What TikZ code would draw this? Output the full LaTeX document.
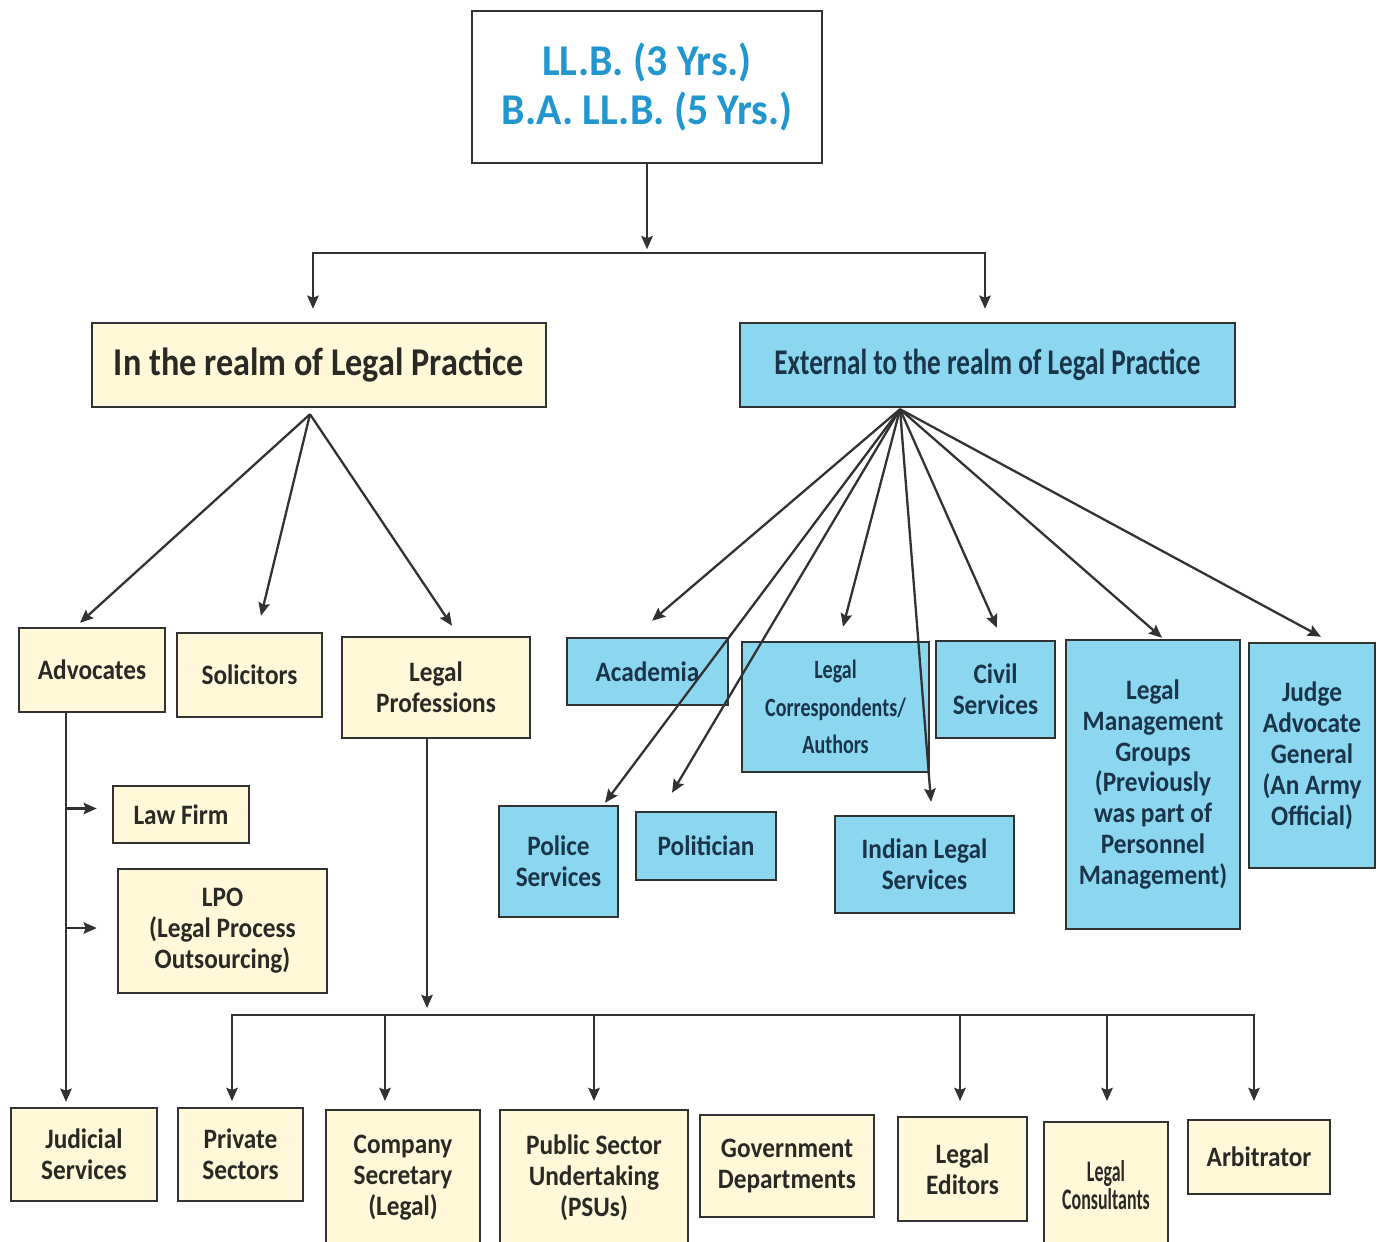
\documentclass[tikz,border=0pt]{standalone}
\usepackage{fontspec}
\setmainfont{Carlito}
\newfontfamily\fG{Carlito}[FakeStretch=0.9]
\newfontfamily\fT{Carlito}[FakeStretch=0.95]
\newfontfamily\fR{Carlito}[FakeStretch=0.87]
\newfontfamily\fE{Carlito}[FakeStretch=0.75]
\newfontfamily\fC{Carlito}[FakeStretch=0.76]
\newfontfamily\fD{Carlito}[FakeStretch=0.6]
\usetikzlibrary{arrows.meta,calc}
\definecolor{cream}{RGB}{255,249,217}
\definecolor{sky}{RGB}{140,215,240}
\definecolor{edge}{RGB}{50,50,50}
\definecolor{inkY}{RGB}{42,42,36}
\definecolor{inkB}{RGB}{26,52,72}
\definecolor{topink}{RGB}{33,150,207}
\tikzset{Ar/.tip={Stealth[length=7.5pt,width=6.5pt,inset=1.2pt]}}
\begin{document}
\begin{tikzpicture}[x=0.02cm,y=-0.02cm,
  sz/.style 2 args={minimum width=#1*0.02cm,minimum height=#2*0.02cm},
  box/.style={draw=edge,line width=1.4pt,inner sep=0pt,align=center,
    font=\fG\bfseries\fontsize{16}{17.6}\selectfont},
  ybox/.style={box,fill=cream,text=inkY},
  bbox/.style={box,fill=sky,text=inkB},
  tbox/.style={box,fill=white,text=topink,font=\fT\bfseries\fontsize{25}{28}\selectfont},
  ln/.style={draw=edge,line width=1.3pt},
  arr/.style={ln,-Ar},
  darr/.style={ln,Ar-Ar}]
\useasboundingbox (0,0) rectangle (1378,1241);
\fill[white] (0,0) rectangle (1378,1241);
\clip (0,0) rectangle (1378,1241);

% top
\node[tbox,sz={350}{152}] (top) at (647,87) {LL.B. (3 Yrs.)\\B.A. LL.B. (5 Yrs.)};
\node[ybox,sz={454}{84},font=\fR\bfseries\fontsize{22.4}{24}\selectfont] (realm) at (319,365) {In the realm of Legal Practice};
\node[bbox,sz={495}{84},font=\fE\bfseries\fontsize{20.6}{22}\selectfont] (ext) at (987.5,365) {External to the realm of Legal Practice};

% left side
\node[ybox,sz={146}{84}] (adv) at (92,670) {Advocates};
\node[ybox,sz={145}{84}] (sol) at (249.5,675) {Solicitors};
\node[ybox,sz={188}{101}] (lp) at (436,687.5) {Legal\\Professions};
\node[ybox,sz={136}{57}] (lf) at (181,814.5) {Law Firm};
\node[ybox,sz={209}{124}] (lpo) at (222.5,931) {LPO\\(Legal Process\\Outsourcing)};

% right side
\node[bbox,sz={161}{67}] (acad) at (647.5,671.5) {Academia};
\node[bbox,sz={187}{130},font=\fC\bfseries\fontsize{15}{21.5}\selectfont] (lc) at (835.5,707) {Legal\\Correspondents/\\Authors};
\node[bbox,sz={119}{97}] (civ) at (995.5,689.5) {Civil\\Services};
\node[bbox,sz={174}{289}] (lmg) at (1153,784.5) {Legal\\Management\\Groups\\(Previously\\was part of\\Personnel\\Management)};
\node[bbox,sz={126}{225}] (jag) at (1312,755.5) {Judge\\Advocate\\General\\(An Army\\Official)};
\node[bbox,sz={119}{111}] (pol) at (558.5,861.5) {Police\\Services};
\node[bbox,sz={140}{68}] (polit) at (706,846) {Politician};
\node[bbox,sz={179}{97}] (ils) at (924.5,864.5) {Indian Legal\\Services};

% bottom
\node[ybox,sz={146}{93}] (jud) at (84,1154.5) {Judicial\\Services};
\node[ybox,sz={125}{93}] (ps) at (240.5,1154.5) {Private\\Sectors};
\node[ybox,sz={154}{135}] (cs) at (403,1177.5) {Company\\Secretary\\(Legal)};
\node[ybox,sz={188}{135}] (psu) at (594,1177.5) {Public Sector\\Undertaking\\(PSUs)};
\node[ybox,sz={174}{102}] (gov) at (787,1166) {Government\\Departments};
\node[ybox,sz={129}{104}] (ed) at (962.5,1169) {Legal\\Editors};
\node[ybox,sz={124}{126},font=\fD\bfseries\fontsize{17}{16}\selectfont] (cons) at (1106,1185) {Legal\\Consultants};
\node[ybox,sz={142}{74}] (arb) at (1259,1157) {Arbitrator};

% top connectors
\coordinate (t1) at ($(top.south)+(0,85)$);
\draw[arr] (top.south) -- (t1);
\coordinate (hb) at ($(top.south)+(0,89)$);
\coordinate (hl) at ($(realm.north)+(-6,0)$);
\coordinate (hr) at ($(ext.north)+(-2.5,0)$);
\draw[darr] ($(hl)+(0,-13)$) -- (hl |- hb) -- (hr |- hb) -- ($(hr)+(0,-13)$);

% realm fan
\coordinate (ro) at ($(realm.south)+(-9,6)$);
\draw[arr] (ro) -- ($(adv.north)+(-12,-4)$);
\draw[arr] (ro) -- ($(sol.north)+(11.5,-16)$);
\draw[arr] (ro) -- ($(lp.north)+(16,-10)$);

% external fan
\coordinate (eo) at ($(ext.south)+(-87.5,1)$);
\draw[arr] (eo) -- ($(acad.north)+(4.5,-16)$);
\draw[arr] (eo) -- ($(lc.north)+(7.5,-14)$);
\draw[arr] (eo) -- ($(civ.north)+(1.5,-12)$);
\draw[arr] (eo) -- ($(lmg.north)+(9,-1)$);
\draw[arr] (eo) -- ($(jag.north)+(9,-5)$);
\draw[arr] (eo) -- ($(pol.north)+(46.5,-2)$);
\draw[arr] (eo) -- ($(polit.north)+(-34,-18)$);
\draw[arr] (eo) -- ($(ils.north)+(6.5,-13)$);

% advocates line
\coordinate (av) at ($(adv.south)+(-26,0)$);
\coordinate (jt) at ($(jud.north)+(-18,-5)$);
\draw[arr] (av) -- (jt);
\coordinate (lfT) at ($(lf.west)+(-15,-6)$);
\draw[arr] (av |- lfT) -- (lfT);
\coordinate (lpoT) at ($(lpo.west)+(-20,-3)$);
\draw[arr] (av |- lpoT) -- (lpoT);

% legal professions bus
\coordinate (lv) at ($(lp.south)+(-9,0)$);
\coordinate (bus) at (0,1015);
\coordinate (tipY) at (0,1101);
\draw[arr] (lv) -- ($(lv |- bus)+(0,-7)$);
\coordinate (d1) at ($(ps.north)+(-8.5,0)$);
\coordinate (d2) at ($(cs.north)+(-18,0)$);
\coordinate (d3) at (psu.north);
\coordinate (d4) at ($(ed.north)+(-2.5,0)$);
\coordinate (d5) at ($(cons.north)+(1,0)$);
\coordinate (d6) at ($(arb.north)+(-5,0)$);
\draw[darr] (d1 |- tipY) -- (d1 |- bus) -- (d6 |- bus) -- (d6 |- tipY);
\foreach \d in {d2,d3,d4,d5} \draw[arr] (\d |- bus) -- (\d |- tipY);
\end{tikzpicture}
\end{document}
